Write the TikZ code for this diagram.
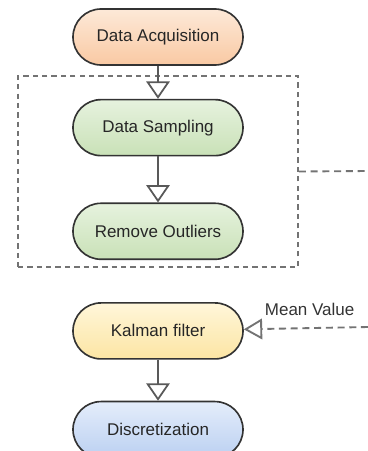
\documentclass[tikz,border=0pt]{standalone}
\usepackage{fontspec}
\setmainfont{Liberation Sans}
\usetikzlibrary{positioning,arrows.meta}

\definecolor{acqtop}{HTML}{FDE9D8}
\definecolor{acqbot}{HTML}{F9C9A3}
\definecolor{samtop}{HTML}{E6F2DE}
\definecolor{sambot}{HTML}{C9E1B7}
\definecolor{kaltop}{HTML}{FFF6DA}
\definecolor{kalbot}{HTML}{FCE5A3}
\definecolor{distop}{HTML}{E4EDFB}
\definecolor{disbot}{HTML}{BBD0F1}

\begin{document}
\begin{tikzpicture}[
font=\fontsize{14.5}{17}\selectfont,
stage/.style={rectangle, rounded corners=0.84cm, draw=black!80, line width=1.4pt,
  minimum width=5.1cm, minimum height=1.68cm, text=black!85},
acq/.style={stage, top color=acqtop, bottom color=acqbot},
sam/.style={stage, top color=samtop, bottom color=sambot},
kal/.style={stage, top color=kaltop, bottom color=kalbot},
dis/.style={stage, top color=distop, bottom color=disbot},
group/.style={rectangle, draw=black!55, line width=1.6pt, dash pattern=on 4.5pt off 3.5pt,
  minimum width=8.4cm, minimum height=5.73cm},
flow/.style={draw=black!65, line width=1.5pt,
  -{Triangle[open, fill=white, length=0.52cm, width=0.7cm]}},
feed/.style={draw=black!55, line width=1.6pt, dash pattern=on 6pt off 4pt},
]
\useasboundingbox (0,0) rectangle (11.04,-13.53);

% grouping box drawn first
\node[group] (grp) at (4.74,-5.145) {};

\node[acq] (acquire) at (4.74,-1.11) {Data Acquisition};
\node[sam] (sample) [below=0.99cm of acquire] {Data Sampling};
\node[sam] (outlier) [below=1.38cm of sample] {Remove Outliers};
\node[kal] (kalman) [below=1.26cm of outlier] {Kalman filter};
\node[dis] (discrete) [below=1.23cm of kalman] {Discretization};

\coordinate (grpout) at (11.04,-5.13);
\coordinate (meanin) at (11.04,-9.81);

\draw[flow] (acquire) -- (sample);
\draw[flow] (sample) -- (outlier);
\draw[flow] (kalman) -- (discrete);

\draw[feed] (grp.east) -- (grpout);
\draw[feed, -{Triangle[open, fill=white, length=0.55cm, width=0.62cm]}] (meanin) -- (kalman)
	node[pos=0.47, above=0.22cm, text=black!80] (meanlbl) {Mean Value};
\end{tikzpicture}
\end{document}
